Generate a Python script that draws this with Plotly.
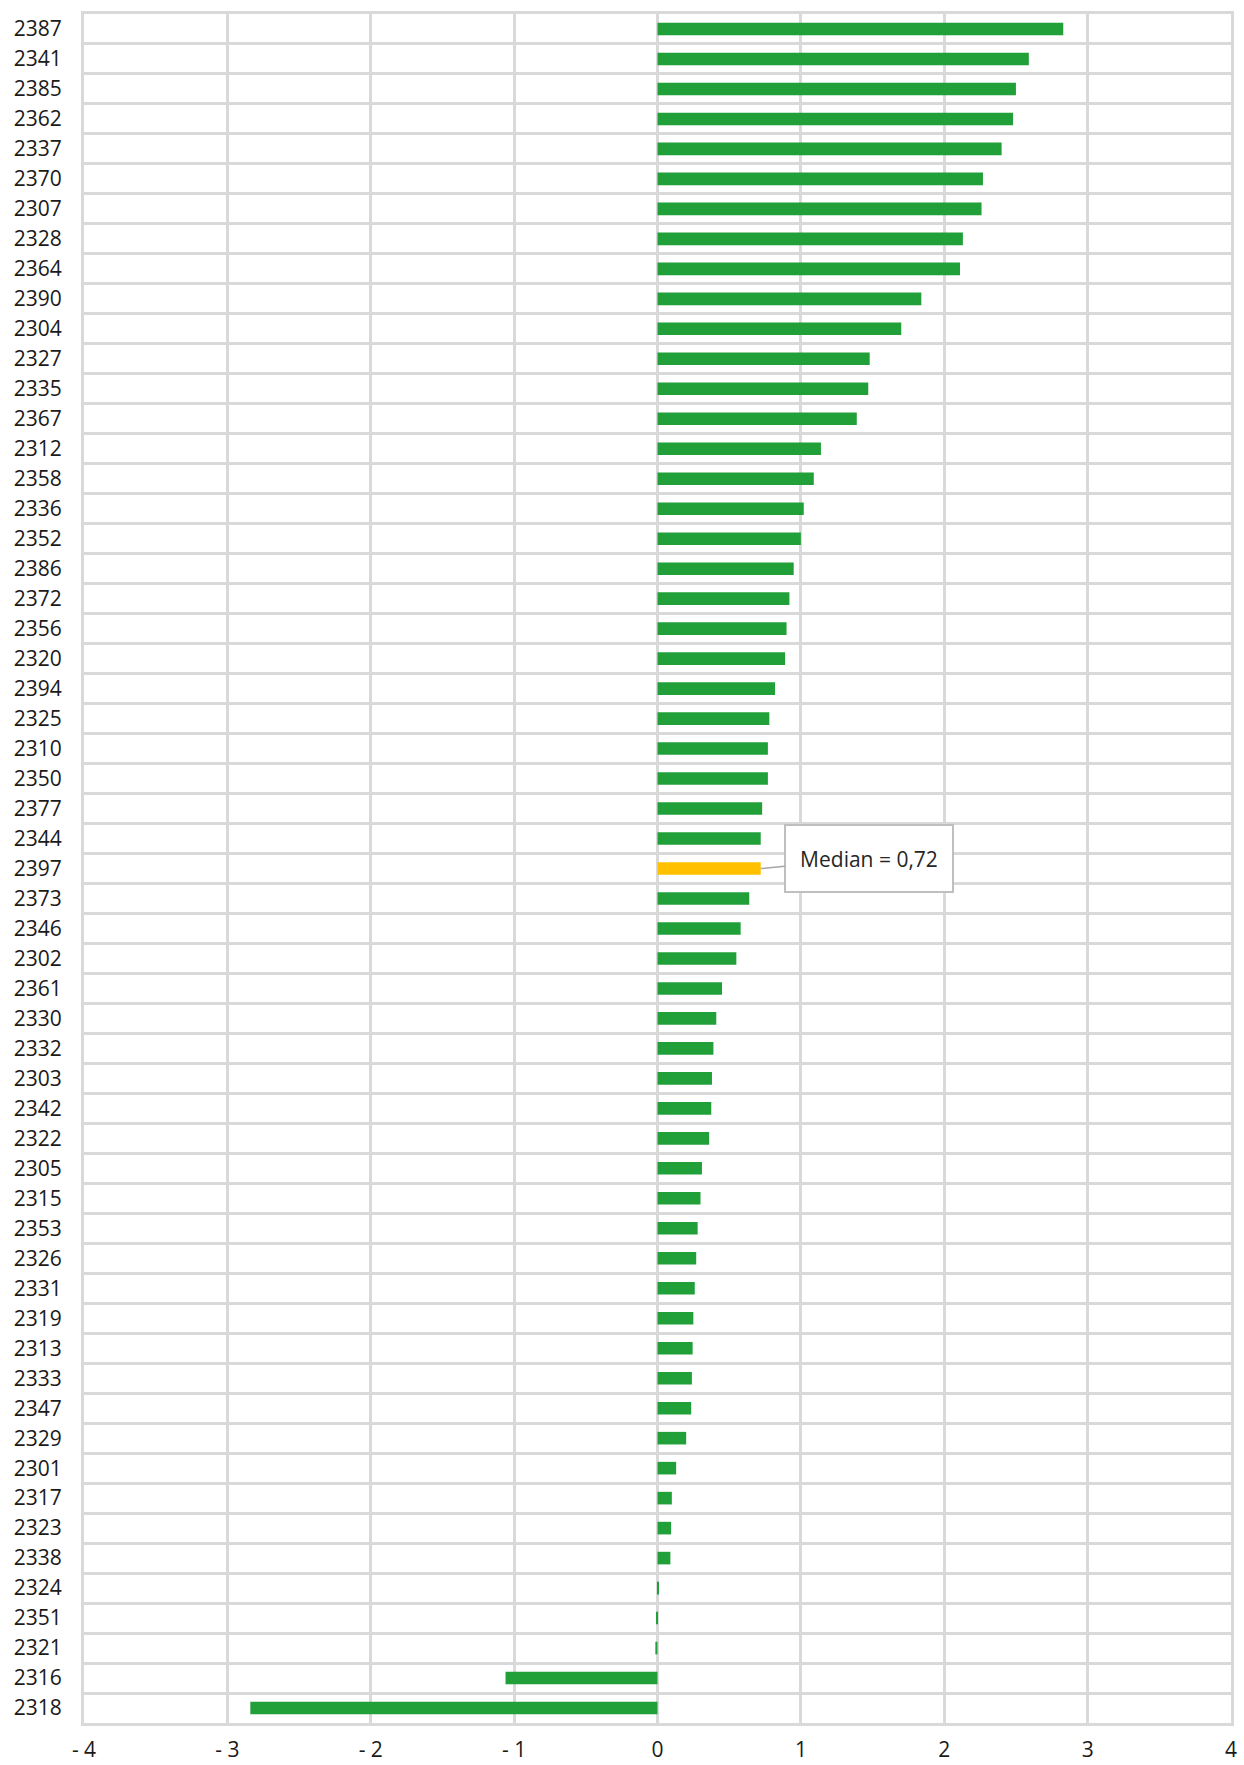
import plotly.graph_objects as go

categories = ["2387", "2341", "2385", "2362", "2337", "2370", "2307", "2328", "2364", "2390",
              "2304", "2327", "2335", "2367", "2312", "2358", "2336", "2352", "2386", "2372",
              "2356", "2320", "2394", "2325", "2310", "2350", "2377", "2344", "2397", "2373",
              "2346", "2302", "2361", "2330", "2332", "2303", "2342", "2322", "2305", "2315",
              "2353", "2326", "2331", "2319", "2313", "2333", "2347", "2329", "2301", "2317",
              "2323", "2338", "2324", "2351", "2321", "2316", "2318"]
values = [2.83, 2.59, 2.50, 2.48, 2.40, 2.27, 2.26, 2.13, 2.11, 1.84,
          1.70, 1.48, 1.47, 1.39, 1.14, 1.09, 1.02, 1.00, 0.95, 0.92,
          0.90, 0.89, 0.82, 0.78, 0.77, 0.77, 0.73, 0.72, 0.72, 0.64,
          0.58, 0.55, 0.45, 0.41, 0.39, 0.38, 0.375, 0.36, 0.31, 0.30,
          0.28, 0.27, 0.26, 0.25, 0.245, 0.24, 0.235, 0.20, 0.13, 0.10,
          0.095, 0.09, 0.01, -0.01, -0.015, -1.06, -2.84]
median_category = "2397"
median_label = "Median = 0,72"
x_tickvals = [-4, -3, -2, -1, 0, 1, 2, 3, 4]
x_ticktext = ["- 4", "- 3", "- 2", "- 1", "0", "1", "2", "3", "4"]

GREEN = "#21A03A"
YELLOW = "#FFC000"
GRID = "#D9D9D9"
colors = [YELLOW if c == median_category else GREEN for c in categories]

fig = go.Figure()
fig.add_trace(go.Bar(
    y=categories, x=values, orientation="h",
    marker=dict(color=colors, line=dict(width=0)),
    hoverinfo="x+y",
))

median_index = categories.index(median_category)
median_value = values[median_index]
fig.add_annotation(
    x=median_value, y=median_index, xref="x", yref="y",
    text=median_label, showarrow=True, arrowhead=0, arrowwidth=1.5,
    arrowcolor="#A6A6A6", ax=108, ay=-10, axref="pixel", ayref="pixel",
    font=dict(family="Open Sans", size=21, color="#262626"),
    bgcolor="white", bordercolor="#BFBFBF", borderwidth=2, borderpad=2,
    width=162, height=61, xanchor="center", yanchor="middle",
)

fig.update_layout(
    width=1244, height=1765,
    margin=dict(l=84, r=13, t=14, b=42, pad=0),
    paper_bgcolor="white", plot_bgcolor="white",
    bargap=0.58, showlegend=False,
    font=dict(family="Open Sans", size=21, color="#1a1a1a"),
)
fig.update_xaxes(
    range=[-4, 4], tickvals=x_tickvals, ticktext=x_ticktext,
    showgrid=True, gridcolor=GRID, gridwidth=2.5, zeroline=False,
    showline=True, linecolor=GRID, linewidth=3, mirror=True,
    ticks="", ticklabelstandoff=6, tickfont=dict(size=21), automargin=False,
)
fig.update_yaxes(
    type="category", categoryorder="array", categoryarray=categories,
    autorange=False, range=[len(categories) - 0.5, -0.5], tickson="boundaries",
    showgrid=True, gridcolor=GRID, gridwidth=3,
    showline=True, linecolor=GRID, linewidth=3, mirror=True,
    ticks="", ticklabelstandoff=15, tickfont=dict(size=21), automargin=False,
)

fig.write_html(
    "out.html",
    config={"displayModeBar": False},
    post_script="document.body.style.margin='0';document.body.style.overflow='hidden';",
)
